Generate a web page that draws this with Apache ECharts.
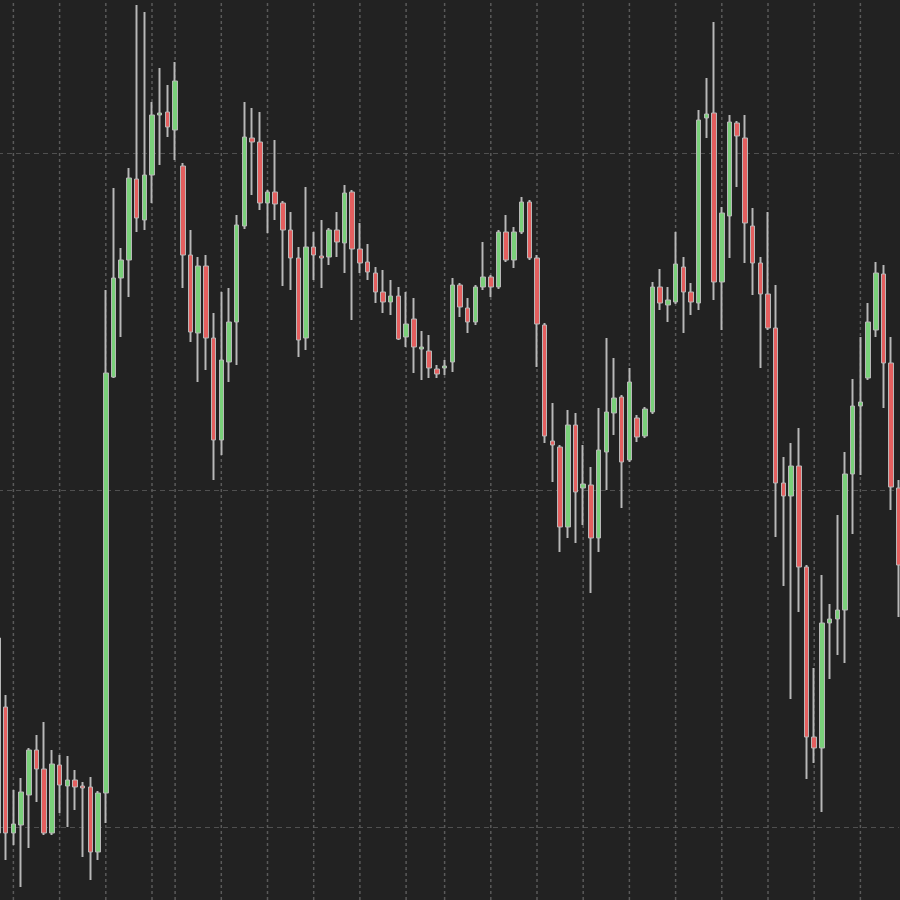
<!DOCTYPE html>
<html>
<head>
<meta charset="utf-8">
<script src="https://cdn.jsdelivr.net/npm/echarts@6/dist/echarts.min.js"></script>
<style>
html,body{margin:0;padding:0;background:#222222;}
#main{width:900px;height:900px;}
</style>
</head>
<body>
<div id="main"></div>
<script>
// 118 four-hour bars (index labels; axis labels are not shown in the reference)
const categories = Array.from({length: 118}, (_, i) => 'Bar ' + i);

const opens = [
  526,457,331,339,369,414,395,331,399,378,
  384,378,377,312,371,787,886,904,985,944,
  989,1049,1052,1034,998,909,831,898,826,724,
  802,842,938,1026,1022,961,972,961,934,906,
  826,917,908,907,934,921,972,915,902,891,
  872,862,868,827,845,815,813,795,796,802,
  879,856,842,877,887,877,932,904,932,962,
  906,839,723,717,637,739,676,679,626,712,
  751,767,704,746,728,752,877,859,862,897,
  872,861,1046,1051,882,948,1041,1026,938,901,
  870,836,681,668,698,597,427,416,541,545,
  554,690,758,786,834,890,801,676
];
const closes = [
  331,331,340,372,414,395,331,400,379,384,
  377,376,312,371,791,886,904,986,946,989,
  1049,1051,1037,1083,909,832,898,826,724,804,
  842,939,1027,1022,961,972,960,934,906,824,
  917,909,906,934,922,971,915,901,892,872,
  862,868,825,840,817,817,796,790,798,879,
  857,842,877,887,877,932,904,932,962,906,
  840,728,719,637,739,672,680,626,714,752,
  766,702,782,727,755,877,861,864,900,872,
  862,1044,1050,882,951,1042,1028,941,901,870,
  836,681,668,698,597,427,416,541,545,554,
  690,758,762,842,891,801,677,599
];
const lows = [
  326,304,319,277,316,362,329,329,351,337,
  354,307,284,304,341,786,827,867,932,934,
  961,999,1027,1004,876,822,782,794,684,709,
  782,799,935,969,954,931,944,878,874,807,
  814,884,876,899,907,891,844,891,884,861,
  851,849,824,817,791,784,786,786,789,792,
  847,831,839,874,867,875,902,896,930,904,
  797,721,682,612,626,621,639,571,612,674,
  729,656,702,722,726,750,854,842,860,831,
  849,854,1026,864,834,906,977,901,869,796,
  834,627,578,465,552,385,401,352,485,509,
  501,630,689,784,827,756,654,547
];
const highs = [
  547,469,374,386,416,429,442,414,409,408,
  394,382,387,373,874,976,916,996,1159,1152,
  1062,1096,1079,1102,1001,934,907,909,851,872,
  876,949,1062,1056,1052,974,1024,963,952,917,
  977,932,944,936,952,979,974,941,920,897,
  894,884,877,872,866,833,829,799,804,886,
  881,866,879,922,889,934,949,937,967,964,
  909,841,761,719,754,751,719,697,756,826,
  806,769,796,749,757,882,895,877,932,907,
  881,1054,1086,1142,957,1049,1043,1049,956,907,
  952,879,707,721,736,599,496,589,560,649,
  712,785,827,861,902,899,827,684
];
// bars where a new session/day starts (vertical dashed lines)
const sessionStarts = [2, 8, 14, 20, 23, 29, 35, 41, 47, 53, 58, 64, 70, 76, 82, 88, 94, 100, 106, 112];

const Y_MIN = 0, Y_MAX = 1348, Y_STEP = 337;

const ohlc = opens.map((o, i) => [o, closes[i], lows[i], highs[i]]);

const sessionSeries = sessionStarts.map(idx => ({
  type: 'line',
  data: [[idx, Y_MIN], [idx, Y_MAX]],
  symbol: 'none',
  silent: true,
  animation: false,
  z: 1,
  lineStyle: {color: '#5a5a5a', type: [3, 3], width: 1.5}
}));

const chart = echarts.init(document.getElementById('main'), null, {renderer: 'canvas'});
chart.setOption({
  backgroundColor: '#222222',
  animation: false,
  grid: {left: -2, right: 1.1, top: -184, bottom: -264, containLabel: false, outerBoundsMode: 'none'},
  xAxis: {
    type: 'category',
    data: categories,
    boundaryGap: false,
    axisLine: {show: false},
    axisTick: {show: false},
    axisLabel: {show: false},
    splitLine: {show: false}
  },
  yAxis: {
    type: 'value',
    min: Y_MIN,
    max: Y_MAX,
    interval: Y_STEP,
    axisLine: {show: false},
    axisTick: {show: false},
    axisLabel: {show: false},
    splitLine: {show: true, lineStyle: {color: '#505050', type: [5, 4], width: 1}}
  },
  series: sessionSeries.concat([
    {
      type: 'candlestick',
      data: ohlc,
      barWidth: 1,
      silent: true,
      z: 2,
      itemStyle: {color: '#8a8a8a', color0: '#8a8a8a', borderColor: '#8a8a8a', borderColor0: '#8a8a8a', borderWidth: 2.4}
    },
    {
      type: 'candlestick',
      data: ohlc,
      barWidth: 5,
      z: 3,
      itemStyle: {color: '#7ad07a', color0: '#e45f5f', borderColor: '#b8b8b8', borderColor0: '#b8b8b8', borderWidth: 1}
    }
  ])
});
</script>
</body>
</html>
